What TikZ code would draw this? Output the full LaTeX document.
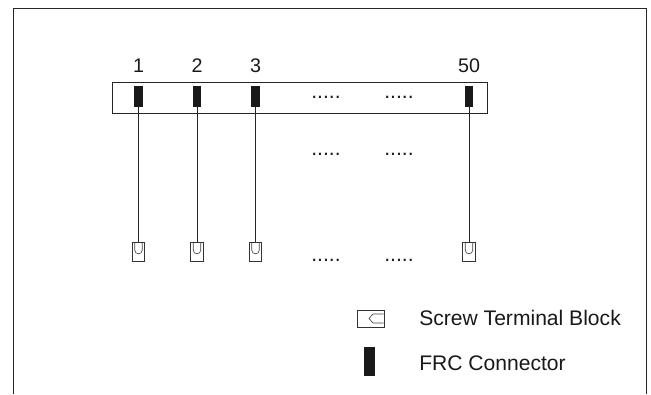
\documentclass[tikz,border=0pt]{standalone}
\usepackage{fontspec}
\setmainfont{Liberation Sans}
\tikzset{
    wire/.style={line width=0.65pt,draw=black!85},
    frc/.style={fill=black!90,draw=none,inner sep=0pt,minimum width=#1},
    frc/.default=5.7pt,
    screw/.style={draw=black!80,line width=0.55pt,inner sep=0pt,minimum width=8.9pt,minimum height=13.9pt},
    txt/.style={text=black!90,font=\fontsize{15pt}{18pt}\selectfont,inner sep=0pt},
    num/.style={text=black!90,font=\fontsize{14pt}{17pt}\selectfont,inner sep=0pt},
}
\begin{document}
\begin{tikzpicture}[x=0.25mm,y=-0.25mm]
    \useasboundingbox (0,0) rectangle (651,394);
    \coordinate (fa) at (13,394);
    \coordinate (fb) at (13,8);
    \coordinate (fc) at (646,8);
    \coordinate (fd) at (646,394);
    \draw[wire] (fa) -- (fb) -- (fc) -- (fd);
    \node[draw=black!85,line width=0.65pt,inner sep=0pt,minimum width=267.3pt,minimum height=22pt] (strip) at (300,97.5) {};
    \foreach[count=\index] \p/\x in {1/138.5, 2/197, 3/255.5, 50/469} {
        \node[frc,minimum height=14.9pt] (c\index) at (\x,96.5) {};
        \node[num] (n\index) at (\x,66) {\p};
        \node[screw] (t\index) at (\x,252) {};
        \draw[draw=black!75,line width=0.45pt] (\x-3.8,242.5) -- (\x-3.8,250) .. controls (\x-3.8,255) and (\x+3.8,255) .. (\x+3.8,250) -- (\x+3.8,242.5);
        \draw[wire] (c\index.south) -- (t\index.north);
    }
    \foreach \x in {326,399} {
        \foreach \y in {97.5,154.5,260.5} {
            \node[txt] at (\x,\y) {.....};
        }
    }
    % legend
    \node[screw,minimum width=18.9pt,minimum height=12pt] (lscrew) at (371,318.5) {};
    \draw[draw=black!75,line width=0.45pt] (383.5,314) -- (373,314) -- (369,318.5) -- (373,323) -- (383.5,323);
    \node[frc=7.8pt,minimum height=21pt] (lfrc) at (369.5,361.5) {};
    \node[txt,anchor=west] (lscrewtxt) at (419,318) {Screw Terminal Block};
    \node[txt,anchor=west] (lfrctxt) at (419,363) {FRC Connector};
\end{tikzpicture}
\end{document}
